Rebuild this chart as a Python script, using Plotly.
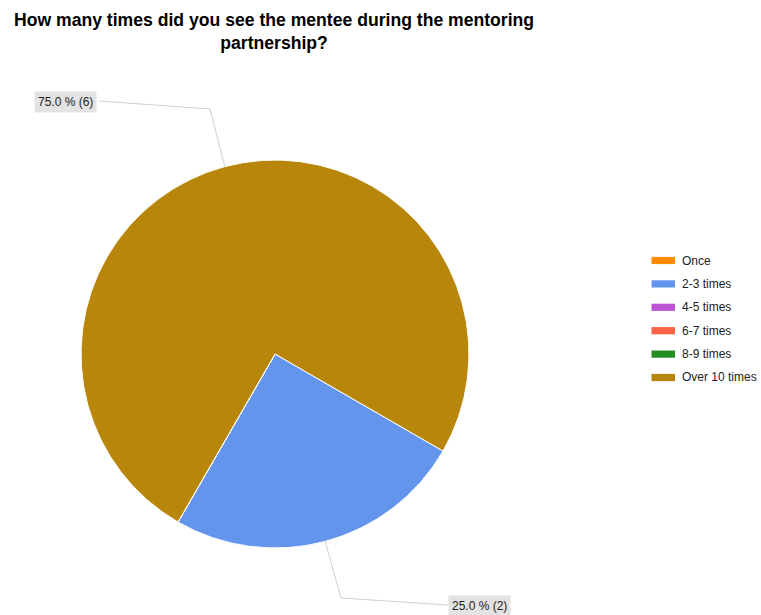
import math
import plotly.graph_objects as go

# Survey answers and counts
categories = ["Once", "2-3 times", "4-5 times", "6-7 times", "8-9 times", "Over 10 times"]
counts = [0, 2, 0, 0, 0, 6]
colors = ["#FF8C00", "#6495ED", "#BA55D3", "#FF6347", "#228B22", "#B8860B"]
title_text = "How many times did you see the mentee during the mentoring<br>partnership?"

W, H = 761, 615
CX, CY, R = 275, 354, 194   # pie centre and radius in pixels
START = 120                 # first slice starts here, degrees clockwise from 12 o'clock


def px(x):
    return x / W


def py(y):
    return 1 - y / H


fig = go.Figure()
fig.add_trace(go.Pie(
    labels=categories,
    values=counts,
    marker=dict(colors=colors, line=dict(color="white", width=1)),
    sort=False,
    direction="clockwise",
    rotation=START,
    textinfo="none",
    hoverinfo="label+value+percent",
    showlegend=False,
    domain=dict(x=[px(CX - R), px(CX + R)], y=[py(CY + R), py(CY - R)]),
))

shapes = []
annotations = []

# Title as a centred two-line annotation
annotations.append(dict(xref="paper", yref="paper", x=px(274), y=py(8),
                        xanchor="center", yanchor="top", showarrow=False,
                        text=f"<b>{title_text}</b>",
                        font=dict(family="Liberation Sans, Arial", size=17.6, color="#000000")))

# Legend: swatch + label per category
row0, row_step = 260.5, 23.4
for i, (lab, col) in enumerate(zip(categories, colors)):
    yc = row0 + i * row_step
    shapes.append(dict(type="rect", xref="paper", yref="paper",
                       x0=px(651.5), x1=px(675), y0=py(yc + 3.6), y1=py(yc - 3.6),
                       fillcolor=col, line=dict(width=0)))
    annotations.append(dict(xref="paper", yref="paper", x=px(679.5), y=py(yc),
                            xanchor="left", yanchor="middle", showarrow=False,
                            text=lab, font=dict(family="Liberation Sans, Arial", size=12, color="#222222")))

# Outside value labels with leader lines
total = sum(counts)
# label box anchor (left, top), line elbow, line end at box edge
label_layout = {
    5: dict(box=(34, 91), elbow=(210, 109), end=(99, 101)),
    1: dict(box=(448, 595), elbow=(341, 598), end=(448, 605)),
}
cum = 0.0
for i, v in enumerate(counts):
    a0 = START + cum / total * 360
    cum += v
    if v == 0 or i not in label_layout:
        continue
    a1 = START + cum / total * 360
    mid = math.radians((a0 + a1) / 2)
    ex, ey = CX + R * math.sin(mid), CY - R * math.cos(mid)
    lay = label_layout[i]
    (bx, by), (kx, ky), (tx, ty) = lay["box"], lay["elbow"], lay["end"]
    shapes.append(dict(type="path", xref="paper", yref="paper",
                       path=f"M {px(ex)},{py(ey)} L {px(kx)},{py(ky)} L {px(tx)},{py(ty)}",
                       line=dict(color="#d0d0d0", width=1)))
    pct = v / total * 100
    annotations.append(dict(xref="paper", yref="paper", x=px(bx), y=py(by),
                            xanchor="left", yanchor="top", showarrow=False,
                            text=f"{pct:.1f} % ({v})", bgcolor="#e3e3e3", borderpad=3,
                            font=dict(family="Liberation Sans, Arial", size=12, color="#222222")))

fig.update_layout(
    width=W, height=H,
    margin=dict(l=0, r=0, t=0, b=0),
    paper_bgcolor="white", plot_bgcolor="white",
    shapes=shapes,
    annotations=annotations,
)

fig.write_html("out.html")
